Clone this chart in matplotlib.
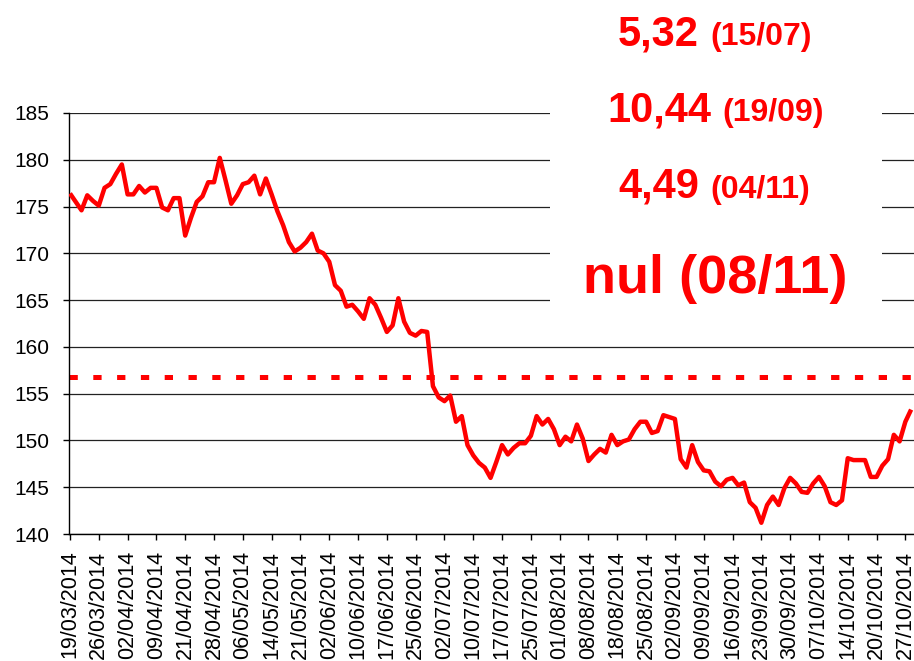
import matplotlib
matplotlib.use('Agg')
import matplotlib.pyplot as plt
from matplotlib.patches import Rectangle

plt.rcParams['font.family'] = ['Liberation Sans', 'DejaVu Sans']

# ---- data ----
values = [
    176.4, 175.5, 174.6, 176.2, 175.6, 175.1, 177.0, 177.4, 178.5, 179.5,
    176.3, 176.3, 177.2, 176.5, 177.0, 177.0, 174.9, 174.6, 175.9, 175.9,
    171.9, 173.8, 175.5, 176.1, 177.6, 177.6, 180.2, 177.8, 175.3, 176.2,
    177.4, 177.6, 178.3, 176.3, 178.0, 176.3, 174.5, 173.0, 171.2, 170.2,
    170.6, 171.2, 172.1, 170.3, 170.0, 169.1, 166.6, 166.0, 164.3, 164.5,
    163.8, 163.0, 165.2, 164.5, 163.1, 161.6, 162.3, 165.2, 162.7, 161.5,
    161.2, 161.7, 161.6, 155.8, 154.6, 154.2, 154.8, 152.0, 152.6, 149.5,
    148.4, 147.6, 147.1, 146.0, 147.7, 149.5, 148.5, 149.2, 149.7, 149.7,
    150.5, 152.6, 151.7, 152.3, 151.2, 149.5, 150.4, 149.9, 151.7, 150.2,
    147.8, 148.5, 149.1, 148.7, 150.6, 149.5, 149.9, 150.1, 151.2, 152.0,
    152.0, 150.8, 151.0, 152.7, 152.5, 152.3, 148.0, 147.1, 149.5, 147.7,
    146.8, 146.7, 145.6, 145.1, 145.8, 146.0, 145.2, 145.5, 143.4, 142.8,
    141.2, 143.1, 144.0, 143.1, 144.9, 146.0, 145.4, 144.5, 144.4, 145.4,
    146.1, 145.1, 143.4, 143.1, 143.6, 148.1, 147.9, 147.9, 147.9, 146.1,
    146.1, 147.3, 148.0, 150.6, 149.9, 152.0, 153.3,
]

tick_labels = [
    "19/03/2014", "26/03/2014", "02/04/2014", "09/04/2014", "21/04/2014",
    "28/04/2014", "06/05/2014", "14/05/2014", "21/05/2014", "02/06/2014",
    "10/06/2014", "17/06/2014", "25/06/2014", "02/07/2014", "10/07/2014",
    "17/07/2014", "25/07/2014", "01/08/2014", "08/08/2014", "18/08/2014",
    "25/08/2014", "02/09/2014", "09/09/2014", "16/09/2014", "23/09/2014",
    "30/09/2014", "07/10/2014", "14/10/2014", "20/10/2014", "27/10/2014",
]
label_step = 5
threshold = 156.8
y_ticks = [140, 145, 150, 155, 160, 165, 170, 175, 180, 185]

note_values = ["5,32", "10,44", "4,49"]
note_dates = ["(15/07)", "(19/09)", "(04/11)"]
final_note = "nul (08/11)"

# ---- figure ----
W, H = 914, 661
fig = plt.figure(figsize=(W / 100, H / 100), dpi=100)
ax = fig.add_axes([69 / W, 1 - 534 / H, (W - 69) / W, (534 - 113) / H])

x = list(range(len(values)))
ax.plot(x, values, color='#FF0000', lw=3.2, solid_joinstyle='round',
        solid_capstyle='butt', zorder=3)
ax.axhline(threshold, color='#FF0000', lw=3.6, linestyle=(0, (1.66, 3.1)),
           dash_capstyle='butt', zorder=2)

ax.set_xlim(-0.17, 146.5)
ax.set_ylim(140, 185)
ax.set_yticks(y_ticks)
ax.set_yticklabels([str(v) for v in y_ticks], fontsize=15)
ax.set_xticks(list(range(0, len(tick_labels) * label_step, label_step)))
ax.set_xticklabels(tick_labels, rotation=90, fontsize=15.5, va='top', ha='center')

ax.yaxis.grid(True, color='#222222', lw=0.9)
ax.set_axisbelow(True)
for s in ['top', 'right']:
    ax.spines[s].set_visible(False)
for s in ['left', 'bottom']:
    ax.spines[s].set_color('black')
    ax.spines[s].set_linewidth(1.0)
ax.tick_params(axis='x', direction='out', length=4, width=1, color='black', pad=8)
ax.tick_params(axis='y', direction='out', length=4, width=1, color='black', pad=10)

# white box behind the notes
fig.add_artist(Rectangle((550 / W, 1 - 320 / H), 332 / W, 320 / H,
                         transform=fig.transFigure, facecolor='white',
                         edgecolor='none', zorder=1))

red = '#FF0000'
rows_y = [45, 121, 198]
split_x = [699, 711, 699]
for val, dt, yb, sx in zip(note_values, note_dates, rows_y, split_x):
    fig.text(sx / W, 1 - yb / H, val, color=red, fontsize=30, fontweight='bold',
             ha='right', va='baseline', zorder=3)
    fig.text((sx + 11) / W, 1 - yb / H, dt, color=red, fontsize=23, fontweight='bold',
             ha='left', va='baseline', zorder=3)
fig.text(715 / W, 1 - 293 / H, final_note, color=red, fontsize=39, fontweight='bold',
         ha='center', va='baseline', zorder=3)

fig.savefig('out.png', dpi=100)
